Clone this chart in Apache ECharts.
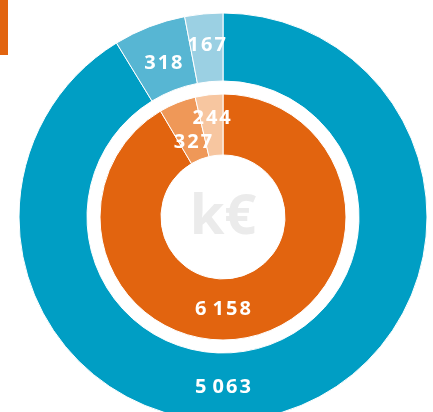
<!DOCTYPE html>
<html>
<head>
<meta charset="utf-8">
<script src="https://cdn.jsdelivr.net/npm/echarts@6/dist/echarts.min.js"></script>
<style>
  html, body { margin: 0; padding: 0; background: #fff; }
  #chart { width: 433px; height: 412px; }
</style>
</head>
<body>
<div id="chart"></div>
<script>
// outer ring (blue) and inner ring (orange), in k€
const outerNames = ['A', 'B', 'C'];
const outerValues = [5063, 318, 167];
const innerNames = ['A', 'B', 'C'];
const innerValues = [6158, 327, 244];
const outerColors = ['#009ec4', '#57b6d3', '#9bd0e3'];
const innerColors = ['#e2640f', '#ef9858', '#f7c6a0'];

const cx = 223, cy = 217;
const outerRadius = [136, 204];
const innerRadius = [62, 123];
// where each label sits across the ring width (0 = inner edge, 1 = outer edge)
const outerLabelPos = [0.5, 0.43, 0.53];
const innerLabelPos = [0.5, 0.31, 0.62];

// digits a bit spread out, narrow gap as thousands separator
const fmt = v => String(v)
  .replace(/\B(?=(\d{3})+(?!\d))/g, ' ')
  .split(' ')
  .map(g => g.split('').join('\u200a'))
  .join('\u200a\u200a\u200a');

let chart = echarts.init(document.getElementById('chart'));

function ring(values, names, colors, radius, labelPos) {
  return {
    type: 'pie',
    center: [cx, cy],
    radius: radius,
    startAngle: 90,
    clockwise: true,
    silent: true,
    animation: false,
    itemStyle: { borderColor: '#fff', borderWidth: 1 },
    label: {
      show: true,
      position: 'inside',
      color: '#fff',
      fontFamily: 'Open Sans',
      fontWeight: 'bold',
      fontSize: 20,
      formatter: p => fmt(p.value)
    },
    labelLine: { show: false },
    labelLayout: function (p) {
      let r = radius[0] + (radius[1] - radius[0]) * labelPos[p.dataIndex];
      if (p.dataIndex === 0) {
        // biggest slice: label at the bottom of the ring
        return { x: cx, y: cy + r };
      }
      let lx = p.labelRect.x + p.labelRect.width / 2 - cx;
      let ly = p.labelRect.y + p.labelRect.height / 2 - cy;
      let d = Math.sqrt(lx * lx + ly * ly);
      return { x: cx + lx / d * r, y: cy + ly / d * r };
    },
    data: values.map((v, i) => ({ name: names[i], value: v, itemStyle: { color: colors[i] } }))
  };
}

let option = {
  backgroundColor: '#fff',
  graphic: [
    { type: 'rect', left: 0, top: 0, shape: { width: 8, height: 55 }, style: { fill: '#e2640f' } },
    {
      type: 'text', x: cx, y: cy + 1,
      style: {
        text: 'k€', fill: '#ebebeb', font: 'bold 56px "Open Sans"',
        textAlign: 'center', textVerticalAlign: 'middle'
      }
    }
  ],
  series: [
    ring(outerValues, outerNames, outerColors, outerRadius, outerLabelPos),
    ring(innerValues, innerNames, innerColors, innerRadius, innerLabelPos)
  ]
};

chart.setOption(option);
</script>
</body>
</html>
